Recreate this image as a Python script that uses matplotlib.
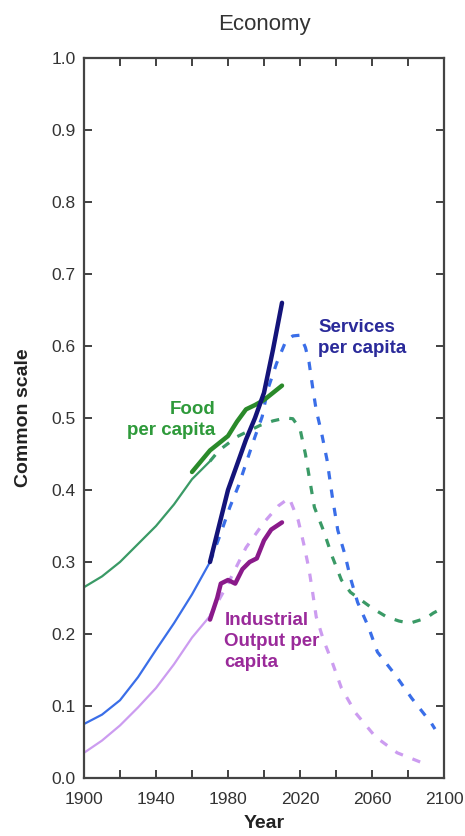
import matplotlib
matplotlib.use("Agg")
import matplotlib.pyplot as plt
import numpy as np

plt.rcParams['font.family'] = ['Liberation Sans', 'DejaVu Sans']

# Model runs (thin solid until 1970, dashed afterwards)
food_model_years = [1900, 1910, 1920, 1930, 1940, 1950, 1960, 1970, 1975, 1985, 1998,
                    2005, 2012, 2016, 2020, 2023, 2025, 2028, 2033, 2038, 2043, 2048,
                    2054, 2060, 2068, 2075, 2081, 2090, 2094, 2100]
food_model = [0.265, 0.28, 0.30, 0.325, 0.35, 0.38, 0.415, 0.44, 0.455, 0.474, 0.49,
              0.496, 0.50, 0.499, 0.485, 0.45, 0.42, 0.376, 0.344, 0.307, 0.275, 0.258,
              0.247, 0.236, 0.224, 0.218, 0.215, 0.222, 0.229, 0.237]

services_model_years = [1900, 1910, 1920, 1930, 1940, 1950, 1960, 1970, 1976, 1981, 1986,
                        1990, 1995, 1999, 2002, 2007, 2012, 2016, 2020, 2023, 2025, 2027,
                        2029, 2032, 2035, 2038, 2041, 2045, 2048, 2052, 2058, 2063, 2073,
                        2082, 2093, 2095]
services_model = [0.075, 0.088, 0.108, 0.14, 0.178, 0.215, 0.255, 0.30, 0.34, 0.376, 0.407,
                  0.437, 0.474, 0.502, 0.539, 0.576, 0.606, 0.614, 0.615, 0.598, 0.578, 0.543,
                  0.511, 0.479, 0.442, 0.39, 0.344, 0.31, 0.278, 0.244, 0.21, 0.175, 0.143,
                  0.111, 0.076, 0.068]

industrial_model_years = [1900, 1910, 1920, 1930, 1940, 1950, 1960, 1970, 1980, 1990, 2000,
                          2008, 2014, 2019, 2022, 2025, 2027, 2029, 2033, 2038, 2043, 2051,
                          2062, 2074, 2088, 2091]
industrial_model = [0.035, 0.052, 0.073, 0.098, 0.125, 0.158, 0.195, 0.225, 0.27, 0.32, 0.355,
                    0.378, 0.389, 0.358, 0.326, 0.29, 0.258, 0.224, 0.192, 0.16, 0.125, 0.09,
                    0.057, 0.035, 0.021, 0.019]

# Observed data (thick solid)
food_years = [1960, 1965, 1970, 1975, 1980, 1985, 1990, 1995, 2000, 2005, 2010]
food_data = [0.425, 0.44, 0.455, 0.465, 0.475, 0.495, 0.512, 0.518, 0.525, 0.535, 0.545]
services_years = [1970, 1975, 1980, 1985, 1990, 1995, 2000, 2005, 2010]
services_data = [0.30, 0.35, 0.40, 0.435, 0.47, 0.50, 0.535, 0.595, 0.66]
industrial_years = [1970, 1974, 1976, 1980, 1984, 1988, 1992, 1996, 2000, 2004, 2010]
industrial_data = [0.22, 0.25, 0.27, 0.275, 0.27, 0.29, 0.30, 0.305, 0.33, 0.345, 0.355]

x_tick_labels = [1900, 1940, 1980, 2020, 2060, 2100]
y_ticks = [0.0, 0.1, 0.2, 0.3, 0.4, 0.5, 0.6, 0.7, 0.8, 0.9, 1.0]

c_food_m, c_food_d = '#3a9a66', '#2a8a2a'
c_serv_m, c_serv_d = '#3a6ee8', '#14147a'
c_ind_m, c_ind_d = '#cc9cf0', '#8a1a8a'

fig = plt.figure(figsize=(4.65, 8.36), dpi=100)
ax = fig.add_axes([84/465, 58/836, 360/465, 720/836])

def draw_model(years, vals, color):
    ys = np.array(years); vs = np.array(vals)
    solid = ys <= 1970
    dashed = ys >= 1970
    ax.plot(ys[solid], vs[solid], color=color, lw=1.6, solid_capstyle='round')
    ax.plot(ys[dashed], vs[dashed], color=color, lw=2.3, linestyle=(0, (2.6, 3.2)))

draw_model(food_model_years, food_model, c_food_m)
draw_model(services_model_years, services_model, c_serv_m)
draw_model(industrial_model_years, industrial_model, c_ind_m)

ax.plot(food_years, food_data, color=c_food_d, lw=3.2, solid_capstyle='round')
ax.plot(services_years, services_data, color=c_serv_d, lw=3.2, solid_capstyle='round')
ax.plot(industrial_years, industrial_data, color=c_ind_d, lw=3.2, solid_capstyle='round')

ax.set_xlim(1900, 2100)
ax.set_ylim(0, 1.0)
xt = list(range(1900, 2101, 20))
ax.set_xticks(xt)
ax.set_xticklabels([str(y) if y in x_tick_labels else '' for y in xt])
ax.set_yticks(y_ticks)
ax.set_yticklabels([f'{v:.1f}' for v in y_ticks])
ax.tick_params(axis='both', direction='in', length=6, width=1.3, top=True, right=True,
               labelsize=12.5, colors='#333333')
ax.tick_params(axis='x', pad=10)
ax.tick_params(axis='y', pad=6)
for s in ax.spines.values():
    s.set_linewidth(1.6)
    s.set_color('#444444')

ax.set_title('Economy', fontsize=16, color='#333333', pad=20)
ax.set_xlabel('Year', fontsize=14, fontweight='bold', color='#222222', labelpad=6)
ax.set_ylabel('Common scale', fontsize=14, fontweight='bold', color='#222222', labelpad=14)

ax.text(2030, 0.638, 'Services\nper capita', color='#2a2a9a', fontsize=13.5,
        fontweight='bold', ha='left', va='top', linespacing=1.35)
ax.text(1973, 0.497, 'Food\nper capita', color='#2e9a3a', fontsize=13.5,
        fontweight='bold', ha='right', va='center', linespacing=1.35, multialignment='right')
ax.text(1978, 0.23, 'Industrial\nOutput per\ncapita', color='#9a2a9a', fontsize=13.5,
        fontweight='bold', ha='left', va='top', linespacing=1.3)

fig.savefig('out.png', dpi=100)
